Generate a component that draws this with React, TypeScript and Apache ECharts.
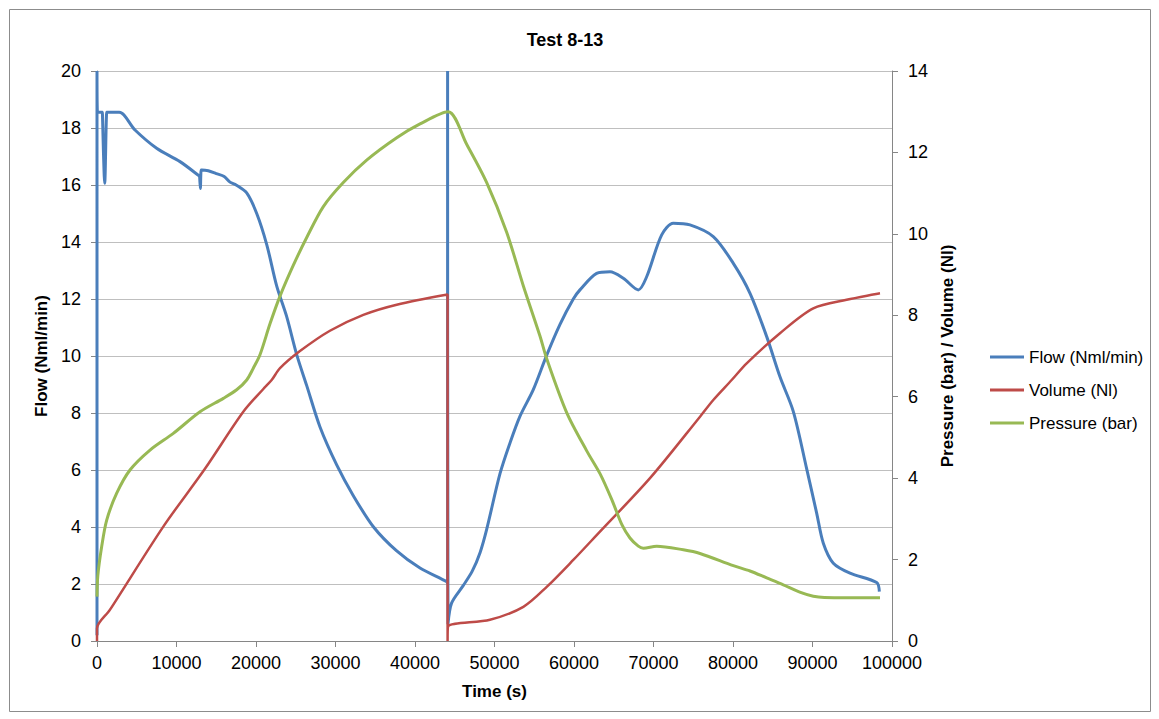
import React, { useEffect, useRef } from "react";
import * as echarts from "echarts";

// Time (s) and values
const flowT = [0, 0, 60, 680, 700, 970, 1220, 1240, 2800, 4780, 7500, 10440, 12900, 12950, 13000, 13100, 13200, 14000, 15000, 16000, 16730, 17500, 18830, 20090, 21350, 22600, 23860, 25120, 26380, 28050, 30150, 32240, 34760, 37700, 40630, 43990, 44100, 44100, 44150, 44600, 46080, 47200, 48180, 49000, 50690, 51950, 53210, 54880, 56570, 58240, 59910, 60750, 62850, 64530, 66200, 68090, 69140, 71030, 72490, 74590, 77520, 80040, 82140, 84240, 85910, 87590, 89270, 90530, 91360, 92620, 94720, 98070, 98410];
const flowV = [0.2, 20, 18.55, 18.55, 18.55, 16.06, 18.55, 18.55, 18.55, 17.93, 17.29, 16.82, 16.31, 16.29, 15.88, 16.53, 16.53, 16.5, 16.4, 16.3, 16.1, 16.0, 15.72, 15.0, 13.91, 12.46, 11.38, 10.05, 8.96, 7.51, 6.18, 5.1, 4.01, 3.16, 2.56, 2.08, 2.02, 20, 0.6, 1.33, 1.95, 2.45, 3.1, 3.9, 5.87, 6.95, 7.89, 8.82, 10.03, 11.11, 12.0, 12.32, 12.9, 12.96, 12.73, 12.32, 12.78, 14.25, 14.66, 14.6, 14.19, 13.25, 12.2, 10.68, 9.27, 8.05, 6.04, 4.48, 3.43, 2.73, 2.38, 2.05, 1.73];

const volT = [0, 0, 1640, 8340, 13580, 18400, 20920, 21970, 23020, 25530, 29300, 33500, 37700, 44100, 44100, 44150, 49430, 53630, 56570, 59910, 62850, 69560, 75850, 77520, 79830, 81720, 85910, 90100, 94300, 98490];
const volV = [0, 0.31, 0.77, 2.81, 4.23, 5.63, 6.19, 6.41, 6.7, 7.12, 7.62, 8.01, 8.26, 8.51, 0, 0.35, 0.52, 0.84, 1.33, 1.99, 2.6, 4.0, 5.51, 5.92, 6.41, 6.82, 7.56, 8.17, 8.38, 8.54];

const presT = [0, 100, 590, 1220, 2480, 4150, 6670, 9600, 12960, 15890, 17570, 18830, 19660, 20500, 21760, 23020, 24700, 26380, 28470, 30980, 33920, 37700, 40630, 44150, 46500, 49020, 51530, 53630, 55720, 56570, 59080, 61600, 63270, 64780, 66040, 67040, 68090, 68720, 70400, 73750, 75850, 80040, 82140, 84240, 86330, 88400, 90100, 91500, 98490];
const presV = [1.09, 1.6, 2.32, 2.97, 3.63, 4.2, 4.69, 5.1, 5.63, 5.96, 6.17, 6.41, 6.7, 7.03, 7.79, 8.47, 9.23, 9.91, 10.67, 11.26, 11.81, 12.36, 12.7, 13.0, 12.2, 11.26, 10.04, 8.72, 7.49, 6.93, 5.61, 4.67, 4.11, 3.46, 2.85, 2.53, 2.33, 2.28, 2.33, 2.24, 2.15, 1.85, 1.72, 1.55, 1.38, 1.2, 1.1, 1.07, 1.06];

const seriesNames = ["Flow (Nml/min)", "Volume (Nl)", "Pressure (bar)"];
const seriesColors = ["#4A7EBB", "#BE4B48", "#98B954"];

const zip = (t: number[], v: number[]) => t.map((x, i) => [x, v[i]]);

const FONT = "'Liberation Sans', Arial, sans-serif";
const axisColor = "#868686";

export default function App() {
  const ref = useRef<HTMLDivElement>(null);
  useEffect(() => {
    const chart = echarts.init(ref.current!, null, { renderer: "svg" });
    const labelStyle = { fontSize: 18, color: "#000", fontFamily: FONT, formatter: (v: number) => String(v) };
    const nameStyle = { fontSize: 17, fontWeight: "bold" as const, color: "#000", fontFamily: FONT };
    const mkSeries = (i: number, axis: number, data: number[][], width: number) => ({
      name: seriesNames[i],
      type: "line",
      yAxisIndex: axis,
      data,
      showSymbol: false,
      symbol: "none",
      smooth: 0.3,
      lineStyle: { color: seriesColors[i], width },
      itemStyle: { color: seriesColors[i] },
    });
    chart.setOption({
      animation: false,
      backgroundColor: "#fff",
      title: {
        text: "Test 8-13",
        left: 565,
        top: 31,
        padding: 0,
        textAlign: "center",
        textStyle: { fontSize: 18, fontWeight: "bold", color: "#000", fontFamily: FONT },
      },
      graphic: [
        {
          type: "rect",
          silent: true,
          z: -1,
          shape: { x: 9.5, y: 9.5, width: 1141, height: 702 },
          style: { fill: "none", stroke: "#8c8c8c", lineWidth: 1 },
        },
      ],
      legend: {
        orient: "vertical",
        left: 985,
        top: 343,
        icon: "rect",
        itemWidth: 34,
        itemHeight: 3,
        itemGap: 15,
        data: seriesNames,
        textStyle: { fontSize: 17, color: "#000", fontFamily: FONT, lineHeight: 18 },
      },
      grid: { left: 97, right: 267, top: 71, bottom: 78, containLabel: false },
      xAxis: {
        type: "value",
        min: 0,
        max: 100000,
        interval: 10000,
        name: "Time (s)",
        nameLocation: "middle",
        nameGap: 42,
        nameTextStyle: nameStyle,
        axisLine: { show: true, lineStyle: { color: axisColor, width: 1 } },
        axisTick: { show: true, inside: false, length: 6, lineStyle: { color: axisColor } },
        splitLine: { show: false },
        axisLabel: { ...labelStyle, margin: 13 },
      },
      yAxis: [
        {
          type: "value",
          position: "left",
          min: 0,
          max: 20,
          interval: 2,
          name: "Flow (Nml/min)",
          nameLocation: "middle",
          nameGap: 46,
          nameTextStyle: nameStyle,
          axisLine: { show: true, lineStyle: { color: axisColor, width: 1 } },
          axisTick: { show: true, inside: false, length: 6, lineStyle: { color: axisColor } },
          splitLine: { show: true, lineStyle: { color: "#bfbfbf", width: 1 } },
          axisLabel: { ...labelStyle, margin: 16 },
        },
        {
          type: "value",
          position: "right",
          min: 0,
          max: 14,
          interval: 2,
          name: "Pressure (bar) / Volume (Nl)",
          nameLocation: "middle",
          nameGap: 47,
          nameTextStyle: nameStyle,
          axisLine: { show: true, lineStyle: { color: axisColor, width: 1 } },
          axisTick: { show: true, inside: false, length: 6, lineStyle: { color: axisColor } },
          splitLine: { show: false },
          axisLabel: { ...labelStyle, margin: 16 },
        },
      ],
      series: [
        mkSeries(0, 0, zip(flowT, flowV), 3),
        mkSeries(1, 1, zip(volT, volV), 2.5),
        mkSeries(2, 1, zip(presT, presV), 3),
      ],
    });
    return () => chart.dispose();
  }, []);
  return (
    <div
      ref={ref}
      style={{ position: "absolute", left: 0, top: 0, width: 1159, height: 719, background: "#fff" }}
    />
  );
}
